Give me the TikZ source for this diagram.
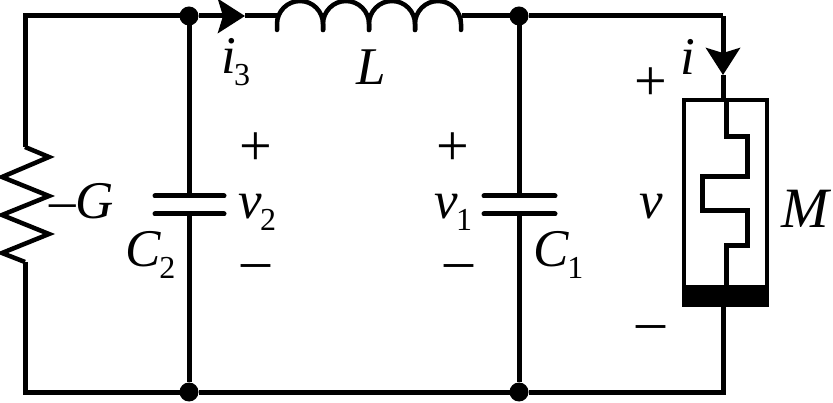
\documentclass[tikz,border=0pt]{standalone}
\usepackage{fontspec}
\setmainfont{Liberation Serif}
\usetikzlibrary{calc}
\usetikzlibrary{positioning}
\usetikzlibrary{arrows.meta}
\newcommand{\idx}[1]{\kern-1.5pt\raisebox{-0.21em}{\fontsize{32}{32}\selectfont #1}}

\begin{document}
\begin{tikzpicture}
[
x=1pt, y=1pt,
every node/.style={outer sep=0, inner sep=0, font=\fontsize{53}{60}\selectfont},
% wires
wire/.style={line width=5pt},
thinwire/.style={line width=4.5pt},
arrow/.style={-{Stealth[length=27pt, width=34pt, inset=5pt]}, line width=5pt},
% junction
dot/.style={circle, fill=black, minimum size=19pt},
% capacitor plate
plate/.style={line width=5pt, line cap=round},
% memristor
memristor/.style={rectangle, draw, line width=4.5pt, fill=white, minimum width=83pt, minimum height=205pt},
band/.style={rectangle, fill=black, minimum width=87pt, minimum height=22pt},
lab/.style={anchor=base west},
sign/.style={font=\fontsize{58}{60}\selectfont}
]
\useasboundingbox (0,0) rectangle (833,-403);

% corners and junctions
\coordinate (NW) at (25,-16);
\coordinate (SW) at (25,-392);
\coordinate (NE) at (723,-16);
\coordinate (SE) at (723,-392);
\node [dot] (J1) at (189,-16) {};
\node [dot] (J2) at (519,-16) {};
\node [dot] (J3) at (189,-392) {};
\node [dot] (J4) at (519,-392) {};

% memristor
\node [memristor] (M) at (725.5,-202.5) {};
\node [band, anchor=south] (Mb) at ($(M.south)+(0,-2.25)$) {};
\coordinate (Mt) at (726,-98);

% resistor
\coordinate (Rt) at (25,-147);
\coordinate (Rb) at (25,-262);

% inductor
\coordinate (Li) at (277,-16);
\coordinate (Lo) at (462,-16);

% capacitors
\coordinate (C2t) at (189,-196);
\coordinate (C2b) at (189,-214);
\coordinate (C1t) at (519,-196);
\coordinate (C1b) at (519,-214);

% arrow tips
\coordinate (i3tip) at (245,-16);
\coordinate (itip) at (723,-75);

% wiring
\draw [wire] (Rt) -- (NW) -- (J1);
\draw [arrow] (J1) -- (i3tip);
\draw [wire] (i3tip) -- (Li);
\draw [wire] (Lo) -- (J2) -- (NE);
\draw [arrow] (NE) -- (itip);
\draw [wire] (itip) -- (M.north -| itip);
\draw [wire] (Rb) -- (SW) -- (J3) -- (J4) -- (SE) -- (Mb.south -| SE);
\draw [wire] (J1) -- (C2t);
\draw [wire] (C2b) -- (J3);
\draw [wire] (J2) -- (C1t);
\draw [wire] (C1b) -- (J4);

% plates
\draw [plate] ($(C2t)+(-34,0)$) -- ($(C2t)+(35,0)$);
\draw [plate] ($(C2b)+(-34,0)$) -- ($(C2b)+(35,0)$);
\draw [plate] ($(C1t)+(-35,0)$) -- ($(C1t)+(36,0)$);
\draw [plate] ($(C1b)+(-35,0)$) -- ($(C1b)+(36,0)$);

% zigzag, coil, memristor inside
\draw [thinwire] (Rt) -- ++(24,-10) -- ++(-47,-20) -- ++(47,-19) -- ++(-47,-19) -- ++(47,-19) -- ++(-47,-19) -- (Rb);
\foreach \x in {277,323,369,415}
  \draw [thinwire, line cap=round] (\x,-30) -- (\x,-24) arc[start angle=180, end angle=0, radius=23] -- ++(0,-6);
\draw [wire] (Mt) -- (726,-137) -- (747,-137) -- (747,-177) -- (702,-177) -- (702,-211) -- (747,-211) -- (747,-246) -- (726,-246) -- (Mb.north -| Mt);

% labels
\node [lab] (i3) at (221,-74) {\textit{i}\idx{3}};
\node [lab] (L) at (356,-85) {\textit{L}};
\node [lab] (G) at (49,-219) {–\textit{G}};
\node [lab] (v2) at (238,-219) {\textit{v}\idx{2}};
\node [lab] (C2) at (125,-267) {\textit{C}\idx{2}};
\node [lab] (v1) at (434,-219) {\textit{v}\idx{1}};
\node [lab] (C1) at (533,-267) {\textit{C}\idx{1}};
\node [lab] (i) at (680,-75) {\textit{i}};
\node [lab] (v) at (639,-219) {\textit{v}};
\node [font=\fontsize{57}{60}\selectfont] (Mlab) at (807,-209) {\textit{M}};
\node [sign] (p2) at (256,-149) {+};
\node [sign] (m2) at (256,-272) {–};
\node [sign] (p1) at (453,-149) {+};
\node [sign] (m1) at (459,-272) {–};
\node [sign] (p3) at (651,-84) {+};
\node [sign] (m3) at (651,-333) {–};
\end{tikzpicture}
\end{document}
